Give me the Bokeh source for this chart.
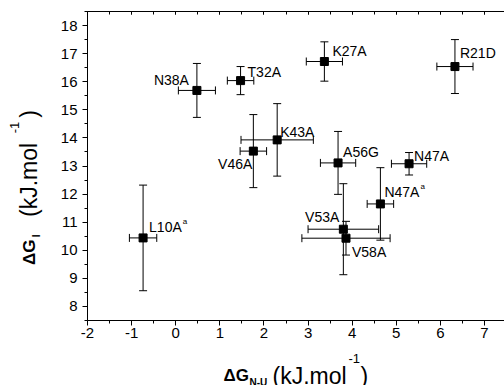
import math
from bokeh.plotting import figure
from bokeh.layouts import row, column
from bokeh.models import (ColumnDataSource, Whisker, TeeHead, Range1d, LinearAxis,
                          SingleIntervalTicker)
from bokeh.core.properties import value
from bokeh.embed import file_html
from bokeh.resources import INLINE

# ---------------- data ----------------
mutants = ["L10A", "N38A", "T32A", "V46A", "K43A", "K27A", "A56G",
           "V53A", "V58A", "N47A", "N47A", "R21D"]
superscripts = ["a", "", "", "", "", "", "", "", "", "a", "", ""]
dg_nu = [-0.74, 0.48, 1.47, 1.76, 2.30, 3.37, 3.68, 3.80, 3.86, 4.64, 5.29, 6.33]
dg_nu_err = [0.31, 0.42, 0.30, 0.30, 0.82, 0.41, 0.40, 0.80, 1.00, 0.30, 0.40, 0.41]
dg_i = [10.44, 15.69, 16.04, 13.53, 13.93, 16.72, 13.11, 10.75, 10.43, 11.65, 13.08, 16.54]
dg_i_err = [1.88, 0.96, 0.50, 1.30, 1.29, 0.70, 1.12, 1.62, 0.60, 1.29, 0.40, 0.96]
x_tick_labels = ["-2", "-1", "0", "1", "2", "3", "4", "5", "6", "7"]
y_tick_labels = ["8", "9", "10", "11", "12", "13", "14", "15", "16", "17", "18"]

# ---------------- layout ----------------
W, H = 504, 385
YW = 44                 # width of the y-title strip
XH = 36                 # height of the x-title strip
MW, MH = W - YW, H - XH
FL, FR, FT, FB = 87, 504, 11, 320          # frame edges in page pixels
X0 = -2.0
XPX = (484 - 87) / 9.0                      # pixels per x unit
XMAX = X0 + (FR - FL) / XPX
Y0, Y1 = 7.5, 18.5
FONT = "Liberation Sans"

# label placement: (align, dx, dy) in screen pixels, dy positive = down
label_place = [("left", 6, -11), ("right", -8, -10), ("left", 7, -9), ("right", -1, 13),
               ("left", 3, -8), ("left", 8, -11), ("left", 5, -11), ("right", -4, -12),
               ("left", 6, 14), ("left", 4, -12), ("left", 5, -8), ("left", 5, -14)]
CW = {"L": .556, "1": .556, "0": .556, "A": .667, "N": .722, "4": .556, "7": .556,
      "T": .611, "3": .556, "2": .556, "V": .667, "6": .556, "K": .667, "5": .556,
      "G": .778, "8": .556, "R": .722, "D": .722}

def text_w(s, size):
    return sum(CW.get(c, .556) for c in s) * size

def bare(fig):
    fig.outline_line_color = None
    fig.background_fill_color = "white"
    fig.border_fill_color = "white"
    fig.xgrid.visible = False
    fig.ygrid.visible = False

p = figure(width=MW, height=MH, x_range=Range1d(X0, XMAX), y_range=Range1d(Y0, Y1),
           output_backend="svg", toolbar_location=None,
           x_axis_type=None, y_axis_type=None,
           min_border_left=FL - YW, min_border_right=W - FR, min_border_top=FT,
           min_border_bottom=MH - FB)
bare(p)

def style_axis(ax):
    ax.axis_line_color = "black"
    ax.axis_line_width = 1
    ax.major_tick_line_color = "black"
    ax.minor_tick_line_color = "black"
    ax.major_tick_out = 5
    ax.major_tick_in = 0
    ax.minor_tick_out = 3
    ax.minor_tick_in = 0
    ax.major_label_text_font = FONT
    ax.major_label_text_font_size = "15px"
    ax.major_label_text_color = "black"

xaxis = LinearAxis(ticker=SingleIntervalTicker(interval=1, num_minor_ticks=2))
style_axis(xaxis)
xaxis.major_label_standoff = 2
xaxis.major_label_overrides = {float(t): s for t, s in zip(range(-2, 8), x_tick_labels)}
p.add_layout(xaxis, "below")

yaxis = LinearAxis(ticker=SingleIntervalTicker(interval=1, num_minor_ticks=2))
style_axis(yaxis)
yaxis.major_label_standoff = 5
yaxis.major_label_overrides = {float(t): s for t, s in zip(range(8, 19), y_tick_labels)}
p.add_layout(yaxis, "left")

top = LinearAxis(ticker=SingleIntervalTicker(interval=1, num_minor_ticks=2))
style_axis(top)
top.major_tick_out = 0
top.major_tick_in = 3
top.minor_tick_out = 0
top.minor_tick_in = 3
top.major_label_text_font_size = "0px"
top.major_label_standoff = 0
top.major_label_overrides = {float(t): "" for t in range(-2, 8)}
p.add_layout(top, "above")

src = ColumnDataSource(dict(
    x=dg_nu, y=dg_i,
    xlo=[a - e for a, e in zip(dg_nu, dg_nu_err)],
    xhi=[a + e for a, e in zip(dg_nu, dg_nu_err)],
    ylo=[a - e for a, e in zip(dg_i, dg_i_err)],
    yhi=[a + e for a, e in zip(dg_i, dg_i_err)],
))

def tee():
    return TeeHead(size=8, line_color="black", line_width=1)

p.add_layout(Whisker(source=src, base="x", lower="ylo", upper="yhi", dimension="height",
                     line_color="black", line_width=1, upper_head=tee(), lower_head=tee()))
p.add_layout(Whisker(source=src, base="y", lower="xlo", upper="xhi", dimension="width",
                     line_color="black", line_width=1, upper_head=tee(), lower_head=tee()))
p.scatter("x", "y", source=src, marker="square", size=8, color="black")

# point labels
for align in ("left", "right"):
    d = dict(x=[], y=[], t=[], dx=[], dy=[])
    s = dict(x=[], y=[], t=[], dx=[], dy=[])
    for i, (al, dx, dy) in enumerate(label_place):
        if al != align:
            continue
        d["x"].append(dg_nu[i]); d["y"].append(dg_i[i]); d["t"].append(mutants[i])
        d["dx"].append(dx); d["dy"].append(dy)
        if superscripts[i]:
            s["x"].append(dg_nu[i]); s["y"].append(dg_i[i]); s["t"].append(superscripts[i])
            s["dx"].append(dx + text_w(mutants[i], 14) + 1); s["dy"].append(dy - 5)
    if d["x"]:
        p.text("x", "y", text="t", x_offset="dx", y_offset="dy", source=ColumnDataSource(d),
               text_font=value(FONT), text_font_size="14px", text_color="black",
               text_align=align, text_baseline="middle")
    if s["x"]:
        p.text("x", "y", text="t", x_offset="dx", y_offset="dy", source=ColumnDataSource(s),
               text_font=value(FONT), text_font_size="8px", text_color="black",
               text_align="left", text_baseline="middle")

# ---------------- axis titles in their own strips ----------------
# The layouts align the strips' frames with the main frame:
#   x strip frame spans page x FL..FR; y strip frame spans page y FT..FB.
xt = figure(width=MW, height=XH, x_range=Range1d(FL, FR), y_range=Range1d(H, MH),
            output_backend="svg", toolbar_location=None, x_axis_type=None, y_axis_type=None,
            min_border=0)
bare(xt)
yt = figure(width=YW, height=H, x_range=Range1d(0, YW), y_range=Range1d(H - FB, H - FT),
            output_backend="svg", toolbar_location=None, x_axis_type=None, y_axis_type=None,
            min_border=0)
bare(yt)

def piece(fig, px, py, text, size, bold=False, angle=0.0, align="left", baseline="alphabetic"):
    fig.text(x=[px], y=[py], text=[text], text_font=value(FONT),
             text_font_size=f"{size}px", text_font_style="bold" if bold else "normal",
             text_color="black", text_align=align, text_baseline=baseline,
             angle=angle)

# x axis title: ΔG_N-U (kJ.mol^-1)
piece(xt, 223, 375, "ΔG", 17, bold=True)
piece(xt, 249, 382, "N-U", 10, bold=True)
piece(xt, 272, 375, "(kJ.mol", 23)
piece(xt, 348, 358, "-1", 13)
piece(xt, 360, 375, ")", 23)

# y axis title (rotated, placed by centres, page y -> H - y): ΔG_I (kJ.mol^-1)
A = math.pi / 2
piece(yt, 29, H - 213, "ΔG", 17, bold=True, angle=A, align="center", baseline="middle")
piece(yt, 36, H - 200, "I", 10, bold=True, angle=A, align="center", baseline="middle")
piece(yt, 28, H - 155, "(kJ.mol", 23, angle=A, align="center", baseline="middle")
piece(yt, 14, H - 113, "-1", 13, angle=A, align="center", baseline="middle")
piece(yt, 28, H - 102, ")", 23, angle=A, align="center", baseline="middle")

layout = row(yt, column(p, xt))
open("out.html", "w").write(file_html(layout, INLINE))
